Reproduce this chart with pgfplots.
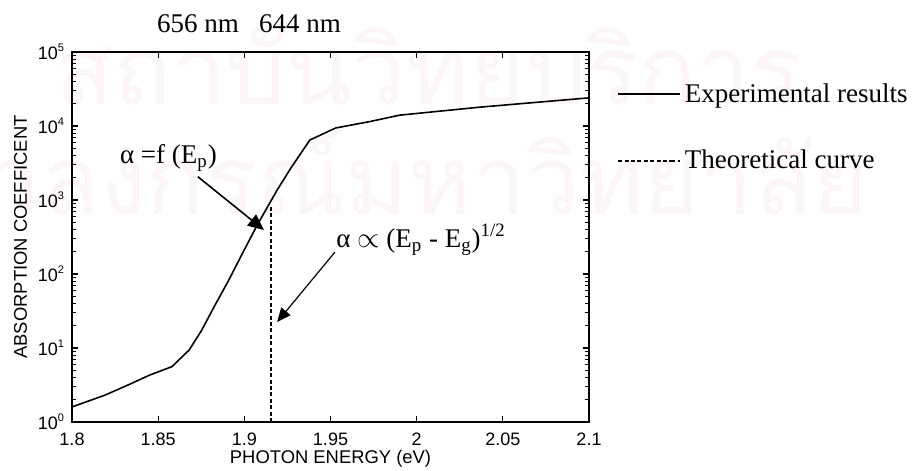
\documentclass[border=0pt]{standalone}
\usepackage{fontspec}
\setmainfont{Liberation Serif}
\setsansfont{Liberation Sans}
\newfontfamily\thaifont[Script=Thai]{Loma}
\usepackage{pgfplots}
\pgfplotsset{compat=1.18}
\usetikzlibrary{arrows.meta}
\definecolor{wm}{RGB}{252,246,249}
\newcommand{\tsup}[1]{\textsuperscript{\fontsize{5.5bp}{6bp}\selectfont #1}}

\begin{document}
\begin{tikzpicture}[x=0.5bp,y=-0.5bp]
\useasboundingbox (0,0) rectangle (915,471);
% faint watermark behind the plot
\node[anchor=base west, inner sep=0, text=wm, font=\thaifont\fontsize{48bp}{48bp}\selectfont] at (55,105) {สถาบันวิทยบริการ};
\node[anchor=base west, inner sep=0, text=wm, font=\thaifont\fontsize{48bp}{48bp}\selectfont] at (-135,215) {จุฬาลงกรณ์มหาวิทยาลัย};

% wavelength marks above the frame
\node[font=\rmfamily\fontsize{13.5bp}{15bp}\selectfont] at (198,24) {656 nm};
\node[font=\rmfamily\fontsize{13.5bp}{15bp}\selectfont] at (300,24) {644 nm};

\begin{axis}[
  at={(36bp,-211bp)}, anchor=south west,
  scale only axis, width=258.5bp, height=185bp,
  xmin=1.8, xmax=2.1,
  ymode=log, ymin=1, ymax=1e5,
  xtick={1.8,1.85,1.9,1.95,2,2.05,2.1},
  xticklabels={1.8,1.85,1.9,1.95,2,2.05,2.1},
  ytick={1,10,100,1000,10000,100000},
  minor ytick={2,3,4,5,6,7,8,9,20,30,40,50,60,70,80,90,200,300,400,500,600,700,800,900,
    2000,3000,4000,5000,6000,7000,8000,9000,20000,30000,40000,50000,60000,70000,80000,90000},
  yticklabels={10\tsup{0},10\tsup{1},10\tsup{2},10\tsup{3},10\tsup{4},10\tsup{5}},
  tick align=inside, xtick pos=both, ytick pos=both,
  major tick length=3bp, minor tick length=2bp,
  every tick/.style={black, line width=0.6bp},
  minor tick style={black, line width=0.5bp},
  tick label style={font=\sffamily\fontsize{9bp}{10bp}\selectfont},
  xticklabel style={yshift=-2bp},
  xlabel={PHOTON ENERGY (eV)},
  xlabel style={yshift=4.5bp},
  ylabel={ABSORPTION COEFFICENT},
  ylabel style={yshift=-1.5bp},
  label style={font=\sffamily\fontsize{9.2bp}{11bp}\selectfont},
  axis line style={line width=0.9bp},
  legend style={draw=none, fill=none, at={(1,1)}, anchor=north west,
    xshift=14bp, yshift=-11.5bp, inner xsep=0pt,
    font=\rmfamily\fontsize{13.5bp}{15bp}\selectfont,
    row sep=18.5bp, cells={anchor=west}},
  legend image code/.code={\draw[#1] (0bp,0bp) -- (26.5bp,0bp); \path (26.5bp,0bp) -- (31bp,0bp);},
]
% measured absorption coefficient
\addplot[black, line width=0.8bp] coordinates {
  (1.800,1.6) (1.819,2.3) (1.833,3.2) (1.845,4.3) (1.858,5.6)
  (1.868,9.4) (1.875,17) (1.883,38) (1.891,83) (1.899,192)
  (1.907,437) (1.914,850) (1.919,1360) (1.927,2700) (1.938,6460)
  (1.953,9400) (1.973,11500) (1.990,14000) (2.037,18000) (2.100,24000)
};
\addlegendentry{Experimental results}
% square-root absorption edge
\addplot[black, line width=0.8bp, dash pattern=on 2bp off 1.2bp] coordinates {
  (1.9155,1) (1.9155,800)
};
\addlegendentry{Theoretical curve}

\draw[black, line width=0.8bp, -{Triangle[length=8bp,width=7bp]}]
  (axis cs:1.873,2065) -- (axis cs:1.9114,393);
\draw[black, line width=0.6bp, -{Triangle[length=7bp,width=6bp]}]
  (axis cs:1.9526,198) -- (axis cs:1.919,22.4);
\node[font=\rmfamily\fontsize{13.5bp}{15bp}\selectfont] at (axis cs:1.856,3700)
  {α =f (E\textsubscript{p})};
\node[font=\rmfamily\fontsize{13.5bp}{15bp}\selectfont] at (axis cs:2.0026,288)
  {α $\propto$ (E\textsubscript{p} - E\textsubscript{g})\textsuperscript{1/2}};
\end{axis}
\end{tikzpicture}
\end{document}
